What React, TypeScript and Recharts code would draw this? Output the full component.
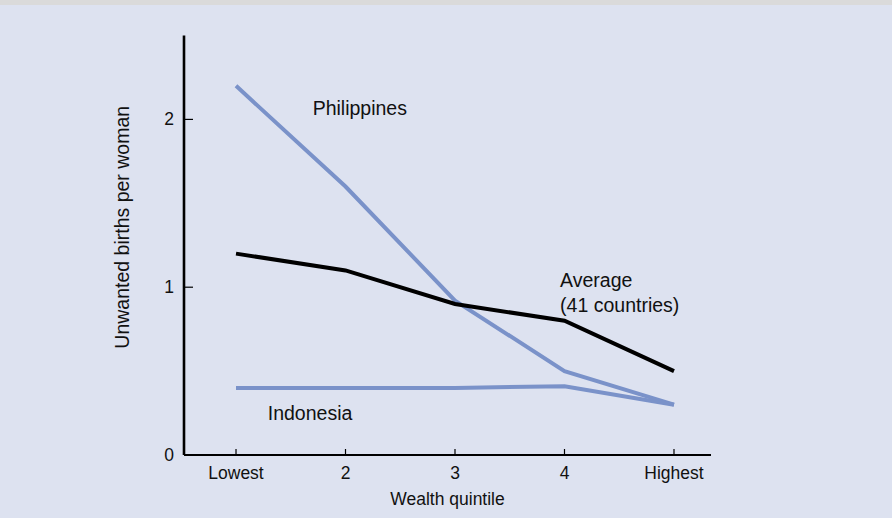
import React from "react";
import { LineChart, Line, XAxis, YAxis, ReferenceDot, Label } from "recharts";

const quintiles = [1, 2, 3, 4, 5];
const quintileLabels = ["Lowest", "2", "3", "4", "Highest"];
const philippines = [2.2, 1.6, 0.92, 0.5, 0.3];
const average = [1.2, 1.1, 0.9, 0.8, 0.5];
const indonesia = [0.4, 0.4, 0.4, 0.41, 0.3];
const yTicks = [0, 1, 2];

const BG = "#dde2f0";
const BLUE = "#7a92c9";
const FONT = "'Liberation Sans', Arial, sans-serif";

const data = quintiles.map((q, i) => ({
  q,
  philippines: philippines[i],
  average: average[i],
  indonesia: indonesia[i],
}));

function XTick({ x, y, payload }: any) {
  const label = quintileLabels[quintiles.indexOf(payload.value)];
  return (
    <g>
      <line x1={x} x2={x} y1={y} y2={y - 6} stroke="#000" strokeWidth={1.2} />
      <text x={x} y={y + 24} textAnchor="middle" fontSize={17.5} fontFamily={FONT} fill="#111">
        {label}
      </text>
    </g>
  );
}

function YTick({ x, y, payload }: any) {
  return (
    <g>
      <line x1={x} x2={x + 9} y1={y} y2={y} stroke="#000" strokeWidth={1.2} />
      <text x={x - 10} y={y + 6} textAnchor="end" fontSize={17.5} fontFamily={FONT} fill="#111">
        {payload.value}
      </text>
    </g>
  );
}

const note = (lines: string[]) => (props: any) => {
  const { x, y } = props.viewBox;
  return (
    <text x={x} y={y + 7} fontSize={19.5} fontFamily={FONT} fill="#111">
      {lines.map((t, i) => (
        <tspan key={i} x={x} dy={i === 0 ? 0 : 25}>
          {t}
        </tspan>
      ))}
    </text>
  );
};

const yLabel = (props: any) => {
  const { x, y, width, height } = props.viewBox;
  const cx = x + width - 55;
  const cy = y + height / 2 - 18;
  return (
    <text x={cx} y={cy} transform={`rotate(-90 ${cx} ${cy})`} textAnchor="middle" fontSize={19.5} fontFamily={FONT} fill="#111">
      Unwanted births per woman
    </text>
  );
};

export default function App() {
  return (
    <div style={{ position: "absolute", left: 0, top: 0, width: 892, height: 518, background: BG }}>
      <div style={{ height: 5, background: "#dadada" }} />
      <LineChart
        width={892}
        height={513}
        data={data}
        margin={{ top: 30.5, right: 181, bottom: 33, left: 124 }}
        style={{ fontFamily: FONT }}
      >
        <XAxis
          dataKey="q"
          type="number"
          domain={[0.525, 5.338]}
          ticks={quintiles}
          height={30}
          tickSize={0}
          tickMargin={0}
          tick={<XTick />}
          axisLine={{ stroke: "#000", strokeWidth: 2.2 }}
          tickLine={false}
          interval={0}
          allowDataOverflow
        >
          <Label value="Wealth quintile" position="bottom" offset={8} fontSize={17.5} fontFamily={FONT} fill="#111" />
        </XAxis>
        <YAxis
          type="number"
          domain={[0, 2.5]}
          ticks={yTicks}
          width={60}
          tickSize={0}
          tickMargin={0}
          tick={<YTick />}
          axisLine={{ stroke: "#000", strokeWidth: 2.6 }}
          tickLine={false}
          interval={0}
          allowDataOverflow
        >
          <Label content={yLabel} />
        </YAxis>
        <Line dataKey="philippines" stroke={BLUE} strokeWidth={4} dot={false} isAnimationActive={false} type="linear" />
        <Line dataKey="indonesia" stroke={BLUE} strokeWidth={4} dot={false} isAnimationActive={false} type="linear" />
        <Line dataKey="average" stroke="#000" strokeWidth={4} dot={false} isAnimationActive={false} type="linear" />
        <ReferenceDot x={1.7} y={2.07} r={0} fill="none" stroke="none" label={note(["Philippines"])} />
        <ReferenceDot x={3.96} y={1.04} r={0} fill="none" stroke="none" label={note(["Average", "(41 countries)"])} />
        <ReferenceDot x={1.29} y={0.25} r={0} fill="none" stroke="none" label={note(["Indonesia"])} />
      </LineChart>
    </div>
  );
}
